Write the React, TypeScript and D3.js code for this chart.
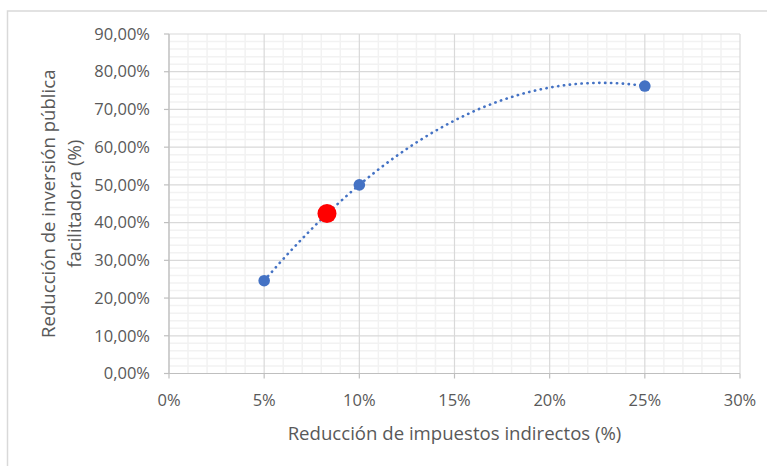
import * as d3 from 'd3';

const xValues = [0.05, 0.1, 0.25];
const yValues = [0.246, 0.5, 0.762];
const highlightX = [0.083];
const highlightY = [0.424];
const xTicks = [0, 0.05, 0.1, 0.15, 0.2, 0.25, 0.3];
const yTicks = [0, 0.1, 0.2, 0.3, 0.4, 0.5, 0.6, 0.7, 0.8, 0.9];

const W = 767;
const H = 466;
const margin = { top: 34, right: 27, bottom: 92.5, left: 169 };
const blue = '#4472C4';
const textColor = '#595959';
const font = '"Open Sans", Carlito, Calibri, sans-serif';

// quadratic trendline (least squares, exact with three points)
const fitQuadratic = (xs: number[], ys: number[]) => {
  const [x1, x2, x3] = xs;
  const [y1, y2, y3] = ys;
  const d1 = (y2 - y1) / (x2 - x1);
  const d2 = (y3 - y2) / (x3 - x2);
  const a = (d2 - d1) / (x3 - x1);
  const b = d1 - a * (x1 + x2);
  const c = y1 - a * x1 * x1 - b * x1;
  return (x: number) => a * x * x + b * x + c;
};

export default function App() {
  const innerW = W - margin.left - margin.right;
  const innerH = H - margin.top - margin.bottom;
  const x = d3.scaleLinear().domain([0, 0.3]).range([margin.left, margin.left + innerW]);
  const y = d3.scaleLinear().domain([0, 0.9]).range([margin.top + innerH, margin.top]);

  const minorX = d3.range(0, 0.3001, 0.01).filter((v) => Math.round(v * 100) % 5 !== 0);
  const minorY = d3.range(0, 0.9001, 0.02).filter((v) => Math.round(v * 100) % 10 !== 0);

  const trend = fitQuadratic(xValues, yValues);
  const [xMin, xMax] = d3.extent(xValues) as [number, number];
  const trendPts = d3.range(0, 101).map((i) => {
    const xv = xMin + ((xMax - xMin) * i) / 100;
    return [xv, trend(xv)] as [number, number];
  });
  const line = d3
    .line<[number, number]>()
    .x((d) => x(d[0]))
    .y((d) => y(d[1]));

  const fmtY = (v: number) => (v * 100).toFixed(2).replace('.', ',') + '%';
  const fmtX = (v: number) => `${Math.round(v * 100)}%`;
  const plotBottom = margin.top + innerH;
  const plotRight = margin.left + innerW;

  return (
    <svg
      width={W}
      height={H}
      style={{ position: 'absolute', left: 0, top: 0, background: '#fff' }}
      fontFamily={font}
    >
      <rect x={7.5} y={11} width={780} height={480} fill="#fff" stroke="#d9d9d9" strokeWidth={1.5} />

      {/* minor grid */}
      {minorX.map((v) => (
        <line key={`mx${v}`} x1={x(v)} x2={x(v)} y1={margin.top} y2={plotBottom} stroke="#f2f2f2" strokeWidth={1.5} />
      ))}
      {minorY.map((v) => (
        <line key={`my${v}`} x1={margin.left} x2={plotRight} y1={y(v)} y2={y(v)} stroke="#f2f2f2" strokeWidth={1.5} />
      ))}
      {/* major grid */}
      {xTicks.map((v) => (
        <line key={`gx${v}`} x1={x(v)} x2={x(v)} y1={margin.top} y2={plotBottom} stroke="#d9d9d9" strokeWidth={1.2} />
      ))}
      {yTicks.map((v) => (
        <line key={`gy${v}`} x1={margin.left} x2={plotRight} y1={y(v)} y2={y(v)} stroke="#d9d9d9" strokeWidth={1.2} />
      ))}

      {/* axes */}
      <line x1={margin.left} x2={margin.left} y1={margin.top} y2={plotBottom} stroke="#bfbfbf" strokeWidth={1.2} />
      <line x1={margin.left} x2={plotRight} y1={plotBottom} y2={plotBottom} stroke="#bfbfbf" strokeWidth={1.2} />
      {yTicks.map((v) => (
        <g key={`ty${v}`}>
          <line x1={margin.left - 5} x2={margin.left} y1={y(v)} y2={y(v)} stroke="#bfbfbf" strokeWidth={1.2} />
          <text x={margin.left - 19} y={y(v)} dy="0.35em" textAnchor="end" fontSize={16.5} fill={textColor}>
            {fmtY(v)}
          </text>
        </g>
      ))}
      {xTicks.map((v) => (
        <g key={`tx${v}`}>
          <line x1={x(v)} x2={x(v)} y1={plotBottom} y2={plotBottom + 5} stroke="#bfbfbf" strokeWidth={1.2} />
          <text x={x(v)} y={plotBottom + 27} dy="0.35em" textAnchor="middle" fontSize={16.5} fill={textColor}>
            {fmtX(v)}
          </text>
        </g>
      ))}

      {/* trendline */}
      <path
        d={line(trendPts) ?? ''}
        fill="none"
        stroke={blue}
        strokeWidth={2.6}
        strokeLinecap="round"
        strokeDasharray="0.3 5.6"
      />

      {/* points */}
      {xValues.map((v, i) => (
        <circle key={`p${i}`} cx={x(v)} cy={y(yValues[i])} r={5.8} fill={blue} />
      ))}
      {highlightX.map((v, i) => (
        <circle key={`h${i}`} cx={x(v)} cy={y(highlightY[i])} r={9.5} fill="#FF0000" />
      ))}

      {/* titles */}
      <text x={(margin.left + plotRight) / 2} y={433} dy="0.35em" textAnchor="middle" fontSize={18.6} fill={textColor}>
        Reducción de impuestos indirectos (%)
      </text>
      <text transform={`translate(48, ${(margin.top + plotBottom) / 2}) rotate(-90)`} textAnchor="middle" dy="0.35em" fontSize={18.6} fill={textColor}>
        Reducción de inversión pública
      </text>
      <text transform={`translate(74, ${(margin.top + plotBottom) / 2}) rotate(-90)`} textAnchor="middle" dy="0.35em" fontSize={18.6} fill={textColor}>
        facilitadora (%)
      </text>
    </svg>
  );
}
